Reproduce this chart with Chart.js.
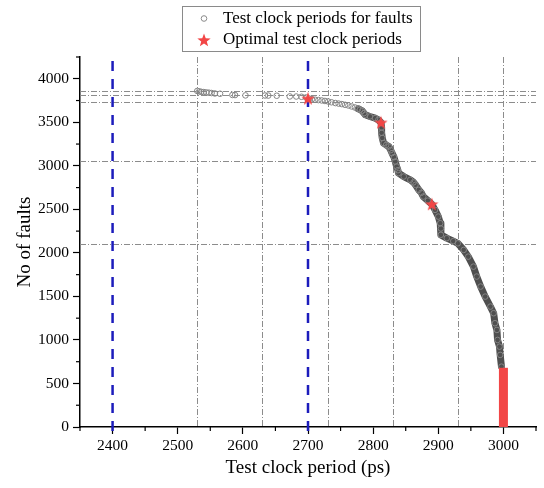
<!DOCTYPE html>
<html>
<head>
<meta charset="utf-8">
<script src="https://cdn.jsdelivr.net/npm/chart.js@4.4.1/dist/chart.umd.min.js"></script>
<style>
  html, body { margin: 0; padding: 0; background: #fff; }
</style>
</head>
<body>
<canvas id="chart" width="544" height="488"></canvas>
<script>
// fault test clock periods (ps) and fault counts
const faultX = [2530, 2533, 2536, 2540, 2544, 2548, 2552, 2557, 2565, 2584, 2588, 2604, 2634, 2639, 2652, 2672, 2682, 2690,
  2697, 2702, 2706, 2711, 2716, 2721, 2726, 2731, 2736, 2742, 2747, 2752, 2757, 2762, 2767, 2772, 2777, 2780, 2783, 2786,
  2788, 2795, 2803, 2808, 2812, 2813, 2813, 2814, 2816, 2820, 2824, 2827, 2829, 2832, 2834, 2836, 2838, 2839, 2847, 2857,
  2862, 2865, 2870, 2874, 2877, 2884, 2890, 2895, 2900, 2903, 2904, 2904, 2913, 2923, 2930, 2939, 2946, 2954, 2959, 2965,
  2972, 2980, 2985, 2987, 2990, 2991, 2994, 2995, 2997];
const faultY = [3860, 3855, 3850, 3847, 3843, 3840, 3836, 3831, 3828, 3814, 3813, 3809, 3808, 3807, 3805, 3797, 3796, 3793,
  3785, 3772, 3765, 3759, 3755, 3751, 3745, 3739, 3730, 3721, 3715, 3709, 3701, 3693, 3682, 3670, 3655, 3645, 3632, 3605,
  3586, 3567, 3548, 3529, 3498, 3440, 3380, 3320, 3261, 3240, 3222, 3180, 3146, 3100, 3049, 2992, 2950, 2916, 2877, 2839,
  2810, 2782, 2724, 2690, 2647, 2600, 2560, 2494, 2417, 2341, 2280, 2207, 2169, 2135, 2110, 2034, 1957, 1842, 1728, 1613,
  1498, 1383, 1307, 1192, 1115, 1000, 923, 828, 693];
const bandFrom = 2775;

const optimalX = [2700, 2812, 2890];
const optimalY = [3774, 3498, 2560];
const columnX = [3000, 3000];
const columnY = [0, 680];

const refX = [2530, 2630, 2730, 2830, 2930, 3000];
const refY = [3862, 3813, 3730, 3057, 2100];
const blueX = [2400, 2700];

const xTicks = [2400, 2500, 2600, 2700, 2800, 2900, 3000];
const xMinor = [2350, 2450, 2550, 2650, 2750, 2850, 2950, 3050];
const yTicks = [0, 500, 1000, 1500, 2000, 2500, 3000, 3500, 4000];
const yMinor = [250, 750, 1250, 1750, 2250, 2750, 3250, 3750, 4250];

const legendLabels = ['Test clock periods for faults', 'Optimal test clock periods'];

const serif = '"Liberation Serif", "Times New Roman", serif';
Chart.defaults.font.family = serif;
Chart.defaults.color = '#000';

function makeStar(size, color) {
  const c = document.createElement('canvas');
  c.width = c.height = size;
  const g = c.getContext('2d');
  const cx = size / 2, cy = size / 2 + 0.6, R = size / 2, r = R * 0.42;
  g.beginPath();
  for (let i = 0; i < 10; i++) {
    const a = -Math.PI / 2 + i * Math.PI / 5;
    const rad = i % 2 ? r : R;
    g.lineTo(cx + rad * Math.cos(a), cy + rad * Math.sin(a));
  }
  g.closePath();
  g.fillStyle = color;
  g.fill();
  return c;
}
const starImg = makeStar(14, '#f24646');

const pts = (xs, ys) => xs.map((x, i) => ({ x, y: ys[i] }));
const faultPts = pts(faultX, faultY);

const refLines = {
  id: 'refLines',
  beforeDatasetsDraw(chart) {
    const { ctx, chartArea: a, scales: { x, y } } = chart;
    ctx.save();
    ctx.strokeStyle = '#8c8c8c';
    ctx.lineWidth = 1;
    ctx.setLineDash([6, 2, 1, 2]);
    refX.forEach(v => {
      const px = Math.round(x.getPixelForValue(v)) + 0.5;
      ctx.beginPath(); ctx.moveTo(px, a.top); ctx.lineTo(px, a.bottom); ctx.stroke();
    });
    refY.forEach(v => {
      const py = Math.round(y.getPixelForValue(v)) + 0.5;
      ctx.beginPath(); ctx.moveTo(a.left, py); ctx.lineTo(a.right, py); ctx.stroke();
    });
    ctx.strokeStyle = '#1c1cbc';
    ctx.lineWidth = 2.5;
    ctx.setLineDash([10, 8]);
    ctx.lineDashOffset = -4;
    blueX.forEach(v => {
      const px = x.getPixelForValue(v);
      ctx.beginPath(); ctx.moveTo(px, a.top); ctx.lineTo(px, a.bottom + 6); ctx.stroke();
    });
    ctx.restore();
  }
};

const minorTicks = {
  id: 'minorTicks',
  afterDraw(chart) {
    const { ctx, chartArea: a, scales: { x, y } } = chart;
    ctx.save();
    ctx.strokeStyle = '#000';
    ctx.lineWidth = 1.2;
    xMinor.forEach(v => {
      const px = x.getPixelForValue(v);
      ctx.beginPath(); ctx.moveTo(px, a.bottom); ctx.lineTo(px, a.bottom + 4); ctx.stroke();
    });
    yMinor.forEach(v => {
      const py = y.getPixelForValue(v);
      ctx.beginPath(); ctx.moveTo(a.left, py); ctx.lineTo(a.left - 4, py); ctx.stroke();
    });
    ctx.restore();
  }
};

// boxed two-row legend above the plot
const legendBox = {
  id: 'legendBox',
  afterDraw(chart) {
    const ctx = chart.ctx;
    ctx.save();
    ctx.strokeStyle = '#8a8a8a';
    ctx.lineWidth = 1;
    ctx.strokeRect(182.5, 6.5, 238, 45);
    ctx.font = '17px ' + serif;
    ctx.fillStyle = '#000';
    ctx.textBaseline = 'middle';
    ctx.fillText(legendLabels[0], 223, 18.5);
    ctx.fillText(legendLabels[1], 223, 40);
    ctx.beginPath();
    ctx.arc(204, 18.5, 2.8, 0, Math.PI * 2);
    ctx.strokeStyle = '#8a8a8a';
    ctx.stroke();
    ctx.drawImage(starImg, 197, 33, 14, 14);
    ctx.restore();
  }
};

new Chart(document.getElementById('chart'), {
  type: 'scatter',
  data: {
    datasets: [
      {
        label: legendLabels[1],
        data: pts(optimalX, optimalY),
        pointStyle: starImg,
        pointRadius: 7
      },
      {
        label: 'column',
        data: pts(columnX, columnY),
        showLine: true,
        borderColor: '#f24646',
        borderWidth: 9,
        borderCapStyle: 'butt',
        pointRadius: 0
      },
      {
        label: legendLabels[0],
        data: faultPts,
        pointStyle: 'circle',
        pointRadius: 2.8,
        borderColor: '#858585',
        backgroundColor: 'rgba(0,0,0,0)',
        borderWidth: 1
      },
      {
        label: 'band',
        data: faultPts.filter(p => p.x >= bandFrom),
        showLine: true,
        borderColor: '#4f4f4f',
        borderWidth: 7,
        borderJoinStyle: 'round',
        borderCapStyle: 'round',
        pointRadius: 0
      }
    ]
  },
  options: {
    responsive: false,
    devicePixelRatio: 1,
    animation: false,
    layout: { padding: { top: 57, right: 8, left: 0, bottom: 0 } },
    plugins: { legend: { display: false }, tooltip: { enabled: false } },
    scales: {
      x: {
        type: 'linear',
        min: 2350,
        max: 3050,
        afterBuildTicks: s => { s.ticks = xTicks.map(v => ({ value: v })); },
        afterFit: s => { s.height = 61; },
        grid: { drawOnChartArea: false, tickLength: 7, tickColor: '#000', tickWidth: 1.2 },
        border: { color: '#000', width: 1.5 },
        ticks: { font: { size: 15.5 }, color: '#000', padding: 3, maxRotation: 0, autoSkip: false, callback: v => String(v) },
        title: { display: true, text: 'Test clock period (ps)', font: { size: 19 }, color: '#000', padding: { top: 0, bottom: 9 } }
      },
      y: {
        type: 'linear',
        min: 0,
        max: 4250,
        afterBuildTicks: s => { s.ticks = yTicks.map(v => ({ value: v })); },
        afterFit: s => { s.width = 80; },
        grid: { drawOnChartArea: false, tickLength: 7, tickColor: '#000', tickWidth: 1.2 },
        border: { color: '#000', width: 1.5 },
        ticks: { font: { size: 15.5 }, color: '#000', padding: 4, autoSkip: false, callback: v => String(v) },
        title: { display: true, text: 'No of faults', font: { size: 19 }, color: '#000', padding: { top: 14, bottom: 0 } }
      }
    }
  },
  plugins: [refLines, minorTicks, legendBox]
});
</script>
</body>
</html>
